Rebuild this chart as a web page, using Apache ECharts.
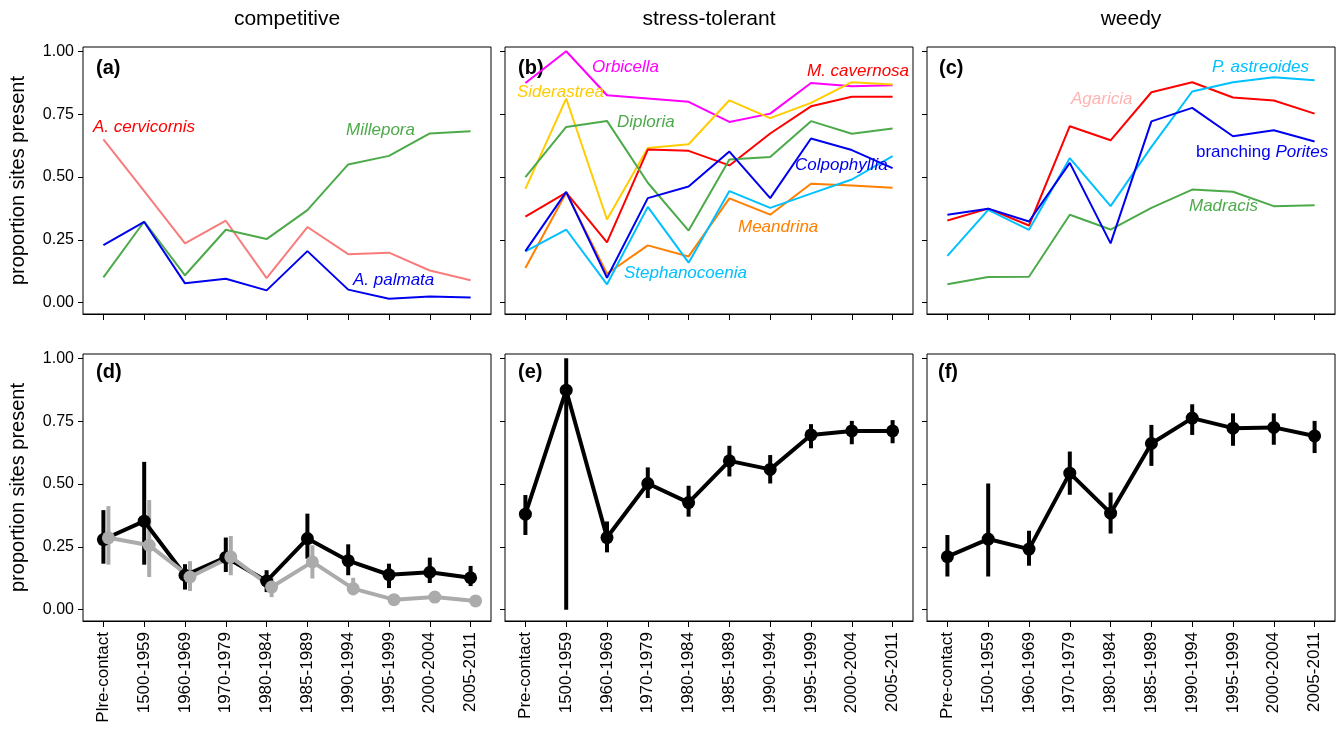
<!DOCTYPE html>
<html><head><meta charset="utf-8">
<script src="https://cdn.jsdelivr.net/npm/echarts@6/dist/echarts.min.js"></script>
<style>html,body{margin:0;padding:0;background:#fff}#c{width:1341px;height:740px}</style>
</head><body><div id="c"></div>
<script>
// ---------- categories / ticks ----------
const periods = ['Pre-contact','1500-1959','1960-1969','1970-1979','1980-1984','1985-1989','1990-1994','1995-1999','2000-2004','2005-2011'];
const periodLabelsD = ['Plre-contact','1500-1959','1960-1969','1970-1979','1980-1984','1985-1989','1990-1994','1995-1999','2000-2004','2005-2011'];
const yTicks = [0, 0.25, 0.5, 0.75, 1];
const columnTitles = ['competitive', 'stress-tolerant', 'weedy'];
const panelLetters = ['(a)', '(b)', '(c)', '(d)', '(e)', '(f)'];

// ---------- (a) competitive species ----------
const aCervicornis = [0.650, 0.444, 0.236, 0.326, 0.098, 0.301, 0.193, 0.199, 0.128, 0.089];
const millepora    = [0.101, 0.323, 0.109, 0.290, 0.253, 0.368, 0.550, 0.584, 0.673, 0.682];
const aPalmata     = [0.229, 0.321, 0.077, 0.095, 0.049, 0.205, 0.052, 0.016, 0.025, 0.021];

// ---------- (b) stress-tolerant species ----------
const orbicella      = [0.874, 1.000, 0.825, 0.812, 0.799, 0.719, 0.752, 0.874, 0.861, 0.865];
const siderastrea    = [0.453, 0.812, 0.331, 0.615, 0.630, 0.805, 0.734, 0.795, 0.877, 0.868];
const mCavernosa     = [0.342, 0.438, 0.240, 0.609, 0.604, 0.546, 0.673, 0.781, 0.819, 0.819];
const diploria       = [0.499, 0.699, 0.723, 0.477, 0.287, 0.570, 0.579, 0.722, 0.672, 0.693];
const colpophyllia   = [0.205, 0.441, 0.099, 0.416, 0.462, 0.601, 0.416, 0.653, 0.607, 0.535];
const meandrina      = [0.138, 0.437, 0.115, 0.228, 0.184, 0.415, 0.350, 0.473, 0.466, 0.457];
const stephanocoenia = [0.204, 0.291, 0.073, 0.381, 0.159, 0.444, 0.377, 0.434, 0.490, 0.583];

// ---------- (c) weedy species ----------
const agaricia     = [0.327, 0.374, 0.307, 0.702, 0.646, 0.837, 0.877, 0.816, 0.804, 0.752];
const pAstreoides  = [0.186, 0.369, 0.290, 0.575, 0.384, 0.620, 0.840, 0.877, 0.897, 0.885];
const brPorites    = [0.350, 0.374, 0.323, 0.556, 0.236, 0.721, 0.775, 0.662, 0.686, 0.641];
const madracis     = [0.073, 0.102, 0.103, 0.350, 0.291, 0.377, 0.450, 0.441, 0.384, 0.388];

// ---------- (d) competitive, group means with intervals ----------
const dBlackMean = [0.279, 0.352, 0.137, 0.208, 0.114, 0.283, 0.195, 0.139, 0.149, 0.127];
const dBlackLo   = [0.183, 0.179, 0.080, 0.150, 0.070, 0.203, 0.137, 0.086, 0.106, 0.094];
const dBlackHi   = [0.396, 0.588, 0.181, 0.287, 0.157, 0.382, 0.260, 0.183, 0.207, 0.174];
const dGreyMean  = [0.286, 0.256, 0.130, 0.210, 0.090, 0.190, 0.084, 0.040, 0.050, 0.035];
const dGreyLo    = [0.179, 0.130, 0.074, 0.137, 0.050, 0.124, 0.057, 0.028, 0.038, 0.024];
const dGreyHi    = [0.412, 0.436, 0.193, 0.293, 0.126, 0.256, 0.127, 0.052, 0.062, 0.046];

// ---------- (e) stress-tolerant ----------
const eMean = [0.380, 0.873, 0.287, 0.502, 0.426, 0.592, 0.558, 0.695, 0.711, 0.711];
const eLo   = [0.297, 0.000, 0.228, 0.444, 0.370, 0.530, 0.502, 0.642, 0.658, 0.662];
const eHi   = [0.456, 1.000, 0.351, 0.566, 0.493, 0.652, 0.615, 0.738, 0.751, 0.754];

// ---------- (f) weedy ----------
const fMean = [0.211, 0.281, 0.241, 0.543, 0.384, 0.661, 0.762, 0.722, 0.725, 0.691];
const fLo   = [0.132, 0.132, 0.175, 0.457, 0.303, 0.572, 0.695, 0.652, 0.656, 0.623];
const fHi   = [0.297, 0.502, 0.314, 0.629, 0.466, 0.735, 0.817, 0.781, 0.781, 0.751];

// ---------- layout ----------
const FONT = '"Liberation Sans", Arial, Helvetica, sans-serif';
const colLeft = [83, 505, 927], W = 408;
const rowTop = [47, 354], H = 267;
const YMIN = -0.045, YMAX = 1.017;
const idx = periods.map((p, i) => i);   // category positions on the x scale

const grids = [], xAxes = [], yAxes = [], series = [];
for (let r = 0; r < 2; r++) {
  for (let c = 0; c < 3; c++) {
    grids.push({left: colLeft[c], top: rowTop[r], width: W, height: H, show: true,
      borderColor: '#000', borderWidth: 1, backgroundColor: 'transparent', containLabel: false});
    const gi = grids.length - 1;
    const names = (r === 1 && c === 0) ? periodLabelsD : periods;
    xAxes.push({gridIndex: gi, type: 'value', min: -0.5, max: periods.length - 0.5, position: 'bottom',
      axisLine: {show: true, onZero: false, lineStyle: {color: '#000', width: 1}},
      axisTick: {show: true, customValues: idx, length: 6, lineStyle: {color: '#000', width: 1}},
      axisLabel: {show: r === 1, customValues: idx, rotate: 90, fontSize: 17, color: '#000', fontFamily: FONT, margin: 11,
        formatter: v => names[Math.round(v)]},
      splitLine: {show: false}});
    yAxes.push({gridIndex: gi, type: 'value', min: YMIN, max: YMAX, position: 'left',
      axisLine: {show: false, onZero: false},
      axisTick: {show: true, customValues: yTicks, length: 5, lineStyle: {color: '#000', width: 1}},
      axisLabel: {show: c === 0, customValues: yTicks, fontSize: 16, color: '#000', fontFamily: FONT, margin: 9,
        formatter: v => v.toFixed(2)},
      splitLine: {show: false},
      name: c === 0 ? 'proportion sites present' : '', nameLocation: 'middle', nameRotate: 90, nameGap: 55,
      nameTextStyle: {fontSize: 20, color: '#000', fontFamily: FONT}});
  }
}
// overlay grid for grey series in (d), shifted slightly right
grids.push({left: colLeft[0] + 5, top: rowTop[1], width: W, height: H, show: false});
xAxes.push({gridIndex: 6, type: 'value', min: -0.5, max: periods.length - 0.5, show: false});
yAxes.push({gridIndex: 6, type: 'value', min: YMIN, max: YMAX, show: false});

const pairs = vals => vals.map((v, i) => [idx[i], v]);

function speciesLine(gi, data, color) {
  series.push({type: 'line', xAxisIndex: gi, yAxisIndex: gi, data: pairs(data), symbol: 'none',
    lineStyle: {color: color, width: 2}, itemStyle: {color: color}, z: 3});
}
speciesLine(0, aCervicornis, '#F87C7C');
speciesLine(0, millepora, '#4DAA4A');
speciesLine(0, aPalmata, '#0000F0');

speciesLine(1, orbicella, '#FF00FF');
speciesLine(1, siderastrea, '#FFCC00');
speciesLine(1, mCavernosa, '#FF0000');
speciesLine(1, diploria, '#4DAA4A');
speciesLine(1, meandrina, '#FF7F00');
speciesLine(1, stephanocoenia, '#00C0FF');
speciesLine(1, colpophyllia, '#0000F0');

speciesLine(2, madracis, '#4DAA4A');
speciesLine(2, agaricia, '#FF0000');
speciesLine(2, pAstreoides, '#00C0FF');
speciesLine(2, brPorites, '#0000F0');

function meanWithBars(gi, mean, lo, hi, color) {
  series.push({type: 'custom', xAxisIndex: gi, yAxisIndex: gi,
    data: mean.map((m, i) => [idx[i], lo[i], hi[i]]),
    encode: {x: 0, y: [1, 2]},
    renderItem: (params, api) => {
      const a = api.coord([api.value(0), api.value(1)]);
      const b = api.coord([api.value(0), api.value(2)]);
      return {type: 'line', shape: {x1: a[0], y1: a[1], x2: b[0], y2: b[1]},
        style: {stroke: color, lineWidth: 4}};
    }, z: 3});
  series.push({type: 'line', xAxisIndex: gi, yAxisIndex: gi, data: pairs(mean), symbol: 'circle', symbolSize: 13,
    lineStyle: {color: color, width: 4}, itemStyle: {color: color}, z: 3});
}
meanWithBars(3, dBlackMean, dBlackLo, dBlackHi, '#000000');
meanWithBars(6, dGreyMean, dGreyLo, dGreyHi, '#ABABAB');
meanWithBars(4, eMean, eLo, eHi, '#000000');
meanWithBars(5, fMean, fLo, fHi, '#000000');

// ---------- text annotations ----------
const graphic = [];
columnTitles.forEach((t, c) => graphic.push({type: 'text', x: colLeft[c] + W / 2, y: 19,
  style: {text: t, font: '21px ' + FONT, fill: '#000', textAlign: 'center', textVerticalAlign: 'middle'}}));
const letterPos = [[96, 68], [518, 68], [939, 68], [96, 372], [518, 372], [938, 372]];
panelLetters.forEach((t, i) => graphic.push({type: 'text', x: letterPos[i][0], y: letterPos[i][1],
  style: {text: t, font: 'bold 20px ' + FONT, fill: '#000', textAlign: 'left', textVerticalAlign: 'middle'}}));
function lab(text, x, y, color) {
  graphic.push({type: 'text', x: x, y: y, z: 10,
    style: {text: text, font: 'italic 17px ' + FONT, fill: color, textAlign: 'left', textVerticalAlign: 'middle'}});
}
lab('A. cervicornis', 93, 127, '#FF0000');
lab('Millepora', 346, 130, '#4DAA4A');
lab('A. palmata', 353, 280, '#0000F0');
lab('Orbicella', 592, 67, '#FF00FF');
lab('Siderastrea', 517, 92, '#FFCC00');
lab('M. cavernosa', 807, 71, '#FF0000');
lab('Diploria', 617, 122, '#4DAA4A');
lab('Colpophyllia', 795, 165, '#0000F0');
lab('Meandrina', 738, 227, '#FF7F00');
lab('Stephanocoenia', 624, 273, '#00C0FF');
lab('P. astreoides', 1212, 67, '#00C0FF');
lab('Agaricia', 1071, 99, '#FFB3B3');
lab('Madracis', 1189, 206, '#4DAA4A');
graphic.push({type: 'text', x: 1196, y: 152, z: 10,
  style: {text: '{n|branching }{i|Porites}', textAlign: 'left', textVerticalAlign: 'middle',
    rich: {n: {font: '17px ' + FONT, fill: '#0000F0'}, i: {font: 'italic 17px ' + FONT, fill: '#0000F0'}}}});

const chart = echarts.init(document.getElementById('c'), null, {renderer: 'canvas'});
chart.setOption({animation: false, backgroundColor: '#fff', grid: grids, xAxis: xAxes, yAxis: yAxes,
  series: series, graphic: graphic});
</script></body></html>
